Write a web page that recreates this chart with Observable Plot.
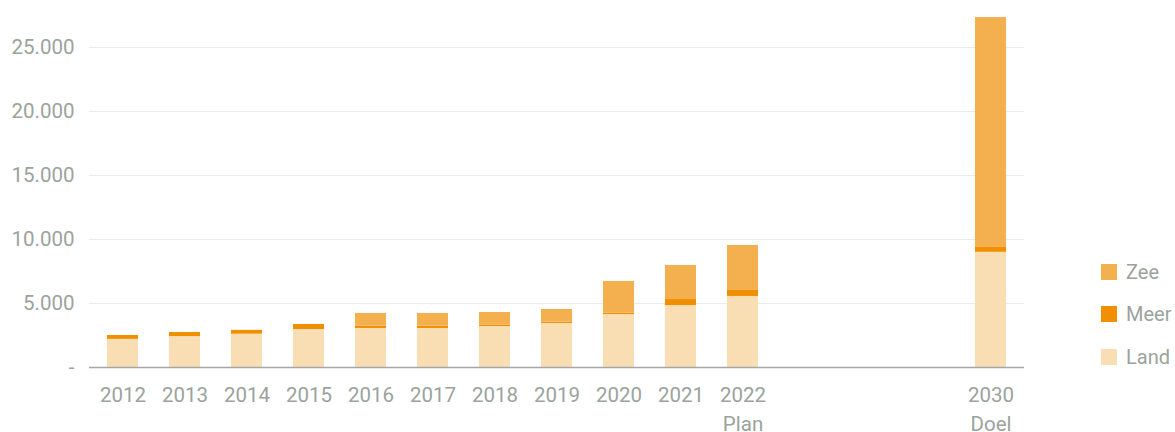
<!DOCTYPE html>
<html>
<head>
<meta charset="utf-8">
<script src="https://cdn.jsdelivr.net/npm/d3@7"></script>
<script src="https://cdn.jsdelivr.net/npm/@observablehq/plot@0.6"></script>
<style>
  html, body { margin: 0; padding: 0; background: #fff; }
  #wrap { position: relative; width: 1175px; height: 432px; overflow: hidden; }
  .legend { position: absolute; left: 1101px; font-family: Roboto, sans-serif; font-size: 20px; color: #9aa39c; display: flex; align-items: center; }
  .legend span.sw { display: inline-block; width: 16px; height: 16px; margin-right: 9px; }
</style>
</head>
<body>
<div id="wrap"></div>
<script>
const years = ["2012","2013","2014","2015","2016","2017","2018","2019","2020","2021","2022","2030"];
const gaps = ["gap1","gap2","gap3"];
const xDomain = [...years.slice(0, 11), ...gaps, "2030"];
const xLabels = {"2022": "2022\nPlan", "2030": "2030\nDoel"};
const series = ["Land", "Meer", "Zee"];
const colors = ["#f9ddb3", "#f18f00", "#f4af4e"];
const land = [2200, 2420, 2600, 2970, 3050, 3050, 3200, 3440, 4140, 4840, 5550, 9000];
const meer = [300, 310, 300, 390, 180, 180, 100, 100, 100, 470, 470, 380];
const zee  = [0, 0, 0, 0, 990, 990, 1000, 990, 2480, 2660, 3510, 17960];
const yTicks = [0, 5000, 10000, 15000, 20000, 25000];

const values = {Land: land, Meer: meer, Zee: zee};
const data = [];
years.forEach((y, i) => {
  series.forEach(s => data.push({year: y, type: s, value: values[s][i]}));
});

const nl = d3.formatLocale({decimal: ",", thousands: ".", grouping: [3], currency: ["€", ""]});
const fmt = nl.format(",d");
const textColor = "#9aa39c";

const chart = Plot.plot({
  width: 1175,
  height: 432,
  marginLeft: 89,
  marginRight: 151,
  marginTop: 7,
  marginBottom: 65,
  style: {fontFamily: "Roboto, sans-serif", fontSize: "20.5px", color: textColor, background: "#fff"},
  x: {domain: xDomain, paddingInner: 0.5, paddingOuter: 0.25, label: null},
  y: {domain: [0, 28125], label: null},
  color: {domain: series, range: colors},
  marks: [
    Plot.gridY(yTicks.filter(d => d > 0), {stroke: "#ebebeb", strokeOpacity: 1}),
    Plot.barY(data, {x: "year", y: "value", fill: "type"}),
    Plot.ruleY([0], {stroke: "#a6a6a6", strokeWidth: 1.5}),
    Plot.axisY(yTicks, {tickSize: 0, tickPadding: 15, tickFormat: d => d === 0 ? "-" : fmt(d), label: null, fill: textColor}),
    Plot.axisX(years, {tickSize: 0, tickPadding: 14, lineHeight: 1.4, tickFormat: d => xLabels[d] || d, label: null, fill: textColor})
  ]
});

const wrap = document.getElementById("wrap");
wrap.appendChild(chart);

const legendItems = [["Zee", colors[2], 264], ["Meer", colors[1], 306], ["Land", colors[0], 349]];
legendItems.forEach(([name, c, top]) => {
  const d = document.createElement("div");
  d.className = "legend";
  d.style.top = (top - 4) + "px";
  d.style.height = "24px";
  d.innerHTML = `<span class="sw" style="background:${c}"></span><span>${name}</span>`;
  wrap.appendChild(d);
});
</script>
</body>
</html>
